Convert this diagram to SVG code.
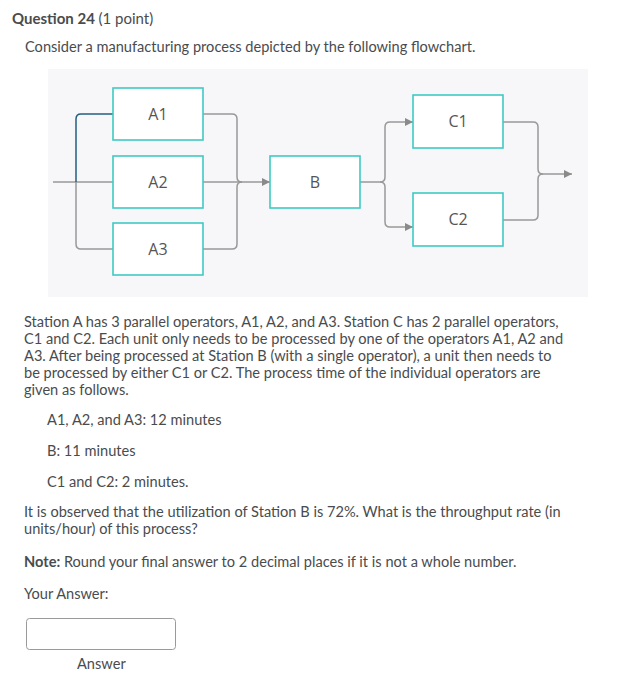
<svg xmlns="http://www.w3.org/2000/svg" width="632" height="679" viewBox="0 0 632 679">
<defs>
<style>
.t{font-family:Lato,"Open Sans","Liberation Sans",sans-serif;font-size:14.6px;fill:#494c4e}
.h{font-family:Lato,"Open Sans","Liberation Sans",sans-serif;font-size:15px;fill:#494c4e}
.b{font-weight:bold}
.box{fill:#ffffff;stroke:#3fcac6;stroke-width:1.6}
.lbl{font-family:"Open Sans","Noto Sans","Liberation Sans",sans-serif;font-size:16px;fill:#555555;text-anchor:middle}
.c{fill:none;stroke:#999999;stroke-width:1.5}
.blue{fill:none;stroke:#235f80;stroke-width:1.5}
</style>
<marker id="ah" markerUnits="userSpaceOnUse" markerWidth="10" markerHeight="10" refX="8" refY="5" orient="auto">
<path d="M0,1 L8,5 L0,9 Z" fill="#8a8a8a"/>
</marker>
</defs>
<rect width="632" height="679" fill="#ffffff"/>
<text class="h b" x="12" y="24">Question 24 <tspan font-weight="normal">(1 point)</tspan></text>
<text class="t" x="25" y="52">Consider a manufacturing process depicted by the following flowchart.</text>
<rect x="48" y="69" width="540" height="228" fill="#f7f7f9"/>
<g id="connectors">
<path class="c" d="M53,182 H113"/>
<path class="blue" d="M76,182 V119 Q76,114 81,114 H113"/>
<path class="c" d="M76,182 V244 Q76,249 81,249 H113"/>
<path class="c" d="M203,114 H232 Q237,114 237,119 V177 Q237,182 242,182"/>
<path class="c" d="M203,249 H232 Q237,249 237,244 V187 Q237,182 242,182"/>
<path class="c" d="M203,182 H270" marker-end="url(#ah)"/>
<path class="c" d="M360,182 H380 Q385,182 385,177 V127 Q385,122 390,122 H413" marker-end="url(#ah)"/>
<path class="c" d="M380,182 Q385,182 385,187 V222 Q385,227 390,227 H413" marker-end="url(#ah)"/>
<path class="c" d="M503,122 H533 Q538,122 538,127 V169 Q538,174 543,174 H572" marker-end="url(#ah)"/>
<path class="c" d="M503,220 H533 Q538,220 538,215 V179 Q538,174 543,174"/>
</g>
<g id="A1"><rect class="box" x="113" y="88" width="90" height="52"/><text class="lbl" x="158" y="120">A1</text></g>
<g id="A2"><rect class="box" x="113" y="156" width="90" height="52"/><text class="lbl" x="158" y="188">A2</text></g>
<g id="A3"><rect class="box" x="113" y="223" width="90" height="52"/><text class="lbl" x="158" y="255">A3</text></g>
<g id="B"><rect class="box" x="270" y="156" width="90" height="52"/><text class="lbl" x="315" y="188">B</text></g>
<g id="C1"><rect class="box" x="413" y="95" width="90" height="53"/><text class="lbl" x="458" y="127">C1</text></g>
<g id="C2"><rect class="box" x="413" y="193" width="90" height="53"/><text class="lbl" x="458" y="225">C2</text></g>
<text class="t" x="24" y="327">Station A has 3 parallel operators, A1, A2, and A3. Station C has 2 parallel operators,</text>
<text class="t" x="24" y="344">C1 and C2. Each unit only needs to be processed by one of the operators A1, A2 and</text>
<text class="t" x="24" y="361">A3. After being processed at Station B (with a single operator), a unit then needs to</text>
<text class="t" x="24" y="378">be processed by either C1 or C2. The process time of the individual operators are</text>
<text class="t" x="24" y="395">given as follows.</text>
<text class="t" x="47" y="425">A1, A2, and A3: 12 minutes</text>
<text class="t" x="47" y="456">B: 11 minutes</text>
<text class="t" x="47" y="487">C1 and C2: 2 minutes.</text>
<text class="t" x="24" y="517">It is observed that the utilization of Station B is 72%. What is the throughput rate (in</text>
<text class="t" x="24" y="534">units/hour) of this process?</text>
<text class="t" x="24" y="567"><tspan font-weight="bold">Note:</tspan> Round your final answer to 2 decimal places if it is not a whole number.</text>
<text class="t" x="24" y="599">Your Answer:</text>
<rect x="26.5" y="618.5" width="149" height="31" rx="3" fill="#ffffff" stroke="#9a9a9a" stroke-width="1"/>
<text class="t" x="77" y="669">Answer</text>
</svg>
